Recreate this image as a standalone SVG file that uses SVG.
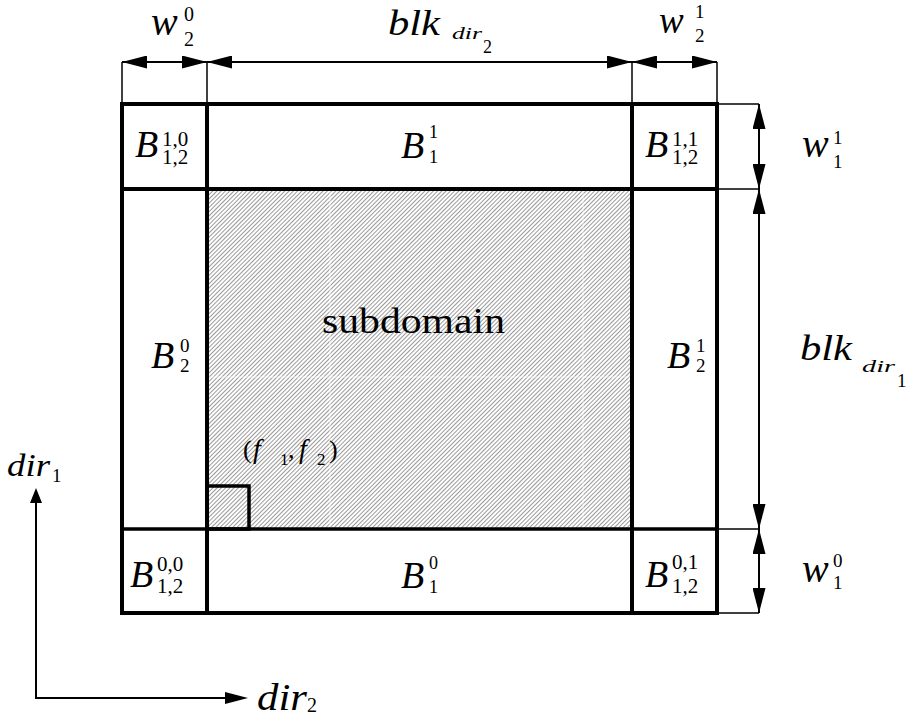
<svg xmlns="http://www.w3.org/2000/svg" width="912" height="720" viewBox="0 0 912 720">
<style>
text{font-family:'Liberation Serif','Times New Roman',serif;fill:#000}
.m{font-style:italic}
.thick{stroke:#000;stroke-width:4;fill:none}
.mid{stroke:#000;stroke-width:3.5;fill:none}
.dim{stroke:#000;stroke-width:2;fill:none}
.ext{stroke:#000;stroke-width:1.5;fill:none}
</style>
<defs>
<pattern id="hatch" patternUnits="userSpaceOnUse" width="3" height="3" patternTransform="rotate(45)">
<rect width="3" height="3" fill="#ffffff"/>
<line x1="0.5" y1="0" x2="0.5" y2="3" stroke="#9a9a9a" stroke-width="1"/>
</pattern>
<pattern id="check" patternUnits="userSpaceOnUse" width="2" height="2">
<rect width="2" height="2" fill="#d8d8d8"/>
<rect width="1" height="1" fill="#8a8a8a"/>
<rect x="1" y="1" width="1" height="1" fill="#8a8a8a"/>
</pattern>
<marker id="ah" viewBox="0 0 25 13" refX="25" refY="6.5" markerWidth="25" markerHeight="13" markerUnits="userSpaceOnUse" orient="auto-start-reverse">
<path d="M0,0 L25,6.5 L0,13 z" fill="#000"/>
</marker>
</defs>

<g id="subdomain">
<rect x="207" y="189" width="425" height="340" fill="url(#hatch)"/>
<g stroke="#ffffff" stroke-width="1" opacity="0.7">
<line x1="330" y1="189" x2="330" y2="529"/>
<line x1="583" y1="189" x2="583" y2="529"/>
<line x1="207" y1="377" x2="632" y2="377"/>
</g>
<text x="322" y="333" font-size="35" textLength="183" lengthAdjust="spacingAndGlyphs">subdomain</text>
</g>

<g id="cell">
<rect x="207" y="486" width="42" height="43" fill="url(#check)" class="mid"/>
<text x="243" y="458" font-size="26">(</text>
<text class="m" x="253" y="458" font-size="28">f</text>
<text x="280" y="465" font-size="17">1</text>
<text x="288" y="458" font-size="26">,</text>
<text class="m" x="299" y="458" font-size="28">f</text>
<text x="317" y="465" font-size="17">2</text>
<text x="329" y="458" font-size="26">)</text>
</g>

<g id="frame">
<rect x="122" y="104" width="595" height="509" class="thick"/>
<line x1="207" y1="104" x2="207" y2="613" class="thick"/>
<line x1="632" y1="104" x2="632" y2="613" class="thick"/>
<line x1="122" y1="189" x2="717" y2="189" class="thick"/>
<line x1="122" y1="529" x2="717" y2="529" class="mid"/>
</g>

<g id="B12_10">
<text class="m" x="135" y="157" font-size="38">B</text>
<text x="162" y="146" font-size="21">1,0</text>
<text x="162" y="164" font-size="21">1,2</text>
</g>
<g id="B1_1">
<text class="m" x="401" y="158" font-size="38">B</text>
<text x="429" y="138" font-size="18">1</text>
<text x="429" y="163" font-size="18">1</text>
</g>
<g id="B12_11">
<text class="m" x="645" y="157" font-size="38">B</text>
<text x="672" y="146" font-size="21">1,1</text>
<text x="672" y="164" font-size="21">1,2</text>
</g>
<g id="B2_0">
<text class="m" x="151" y="368" font-size="38">B</text>
<text x="180" y="352" font-size="19">0</text>
<text x="180" y="372" font-size="19">2</text>
</g>
<g id="B2_1">
<text class="m" x="667" y="368" font-size="38">B</text>
<text x="696" y="352" font-size="19">1</text>
<text x="696" y="372" font-size="19">2</text>
</g>
<g id="B12_00">
<text class="m" x="130" y="587" font-size="38">B</text>
<text x="157" y="571" font-size="21">0,0</text>
<text x="157" y="593" font-size="21">1,2</text>
</g>
<g id="B1_0">
<text class="m" x="401" y="588" font-size="38">B</text>
<text x="429" y="569" font-size="18">0</text>
<text x="429" y="593" font-size="18">1</text>
</g>
<g id="B12_01">
<text class="m" x="645" y="587" font-size="38">B</text>
<text x="672" y="569" font-size="21">0,1</text>
<text x="672" y="593" font-size="21">1,2</text>
</g>

<g id="connectors">
<g class="ext">
<line x1="122" y1="62" x2="122" y2="104"/>
<line x1="207" y1="62" x2="207" y2="104"/>
<line x1="632" y1="62" x2="632" y2="104"/>
<line x1="717" y1="62" x2="717" y2="104"/>
<line x1="717" y1="104" x2="759" y2="104"/>
<line x1="717" y1="189" x2="759" y2="189"/>
<line x1="717" y1="529" x2="759" y2="529"/>
<line x1="717" y1="613" x2="759" y2="613"/>
</g>
<g class="dim">
<line x1="122" y1="62" x2="207" y2="62" marker-start="url(#ah)" marker-end="url(#ah)"/>
<line x1="207" y1="62" x2="632" y2="62" marker-start="url(#ah)" marker-end="url(#ah)"/>
<line x1="632" y1="62" x2="717" y2="62" marker-start="url(#ah)" marker-end="url(#ah)"/>
<line x1="759" y1="104" x2="759" y2="189" marker-start="url(#ah)" marker-end="url(#ah)"/>
<line x1="759" y1="189" x2="759" y2="529" marker-start="url(#ah)" marker-end="url(#ah)"/>
<line x1="759" y1="529" x2="759" y2="613" marker-start="url(#ah)" marker-end="url(#ah)"/>
<polyline points="36,500 36,698 230,698"/>
</g>
<polygon points="36,488 30,503 42,503" fill="#000"/>
<polygon points="248,698 225,692 225,704" fill="#000"/>
</g>

<g id="labels">
<text class="m" x="151" y="35" font-size="40">w</text>
<text x="184" y="21" font-size="20">0</text>
<text x="184" y="46" font-size="20">2</text>

<text class="m" x="388" y="35" font-size="36" textLength="52" lengthAdjust="spacingAndGlyphs">blk</text>
<text class="m" x="452" y="39" font-size="16" textLength="30" lengthAdjust="spacingAndGlyphs">dir</text>
<text x="483" y="53" font-size="18">2</text>

<text class="m" x="659" y="33" font-size="37">w</text>
<text x="695" y="18" font-size="19">1</text>
<text x="695" y="42" font-size="19">2</text>

<text class="m" x="802" y="157" font-size="40">w</text>
<text x="833" y="144" font-size="19">1</text>
<text x="833" y="168" font-size="19">1</text>

<text class="m" x="800" y="360" font-size="36" textLength="52" lengthAdjust="spacingAndGlyphs">blk</text>
<text class="m" x="862" y="372" font-size="17" textLength="33" lengthAdjust="spacingAndGlyphs">dir</text>
<text x="897" y="387" font-size="19">1</text>

<text class="m" x="802" y="582" font-size="40">w</text>
<text x="833" y="567" font-size="19">0</text>
<text x="833" y="589" font-size="19">1</text>

<text class="m" x="7" y="476" font-size="32" textLength="43" lengthAdjust="spacingAndGlyphs">dir</text>
<text x="52" y="482" font-size="19">1</text>

<text class="m" x="257" y="710" font-size="38" textLength="50" lengthAdjust="spacingAndGlyphs">dir</text>
<text x="307" y="712" font-size="20">2</text>
</g>
</svg>
